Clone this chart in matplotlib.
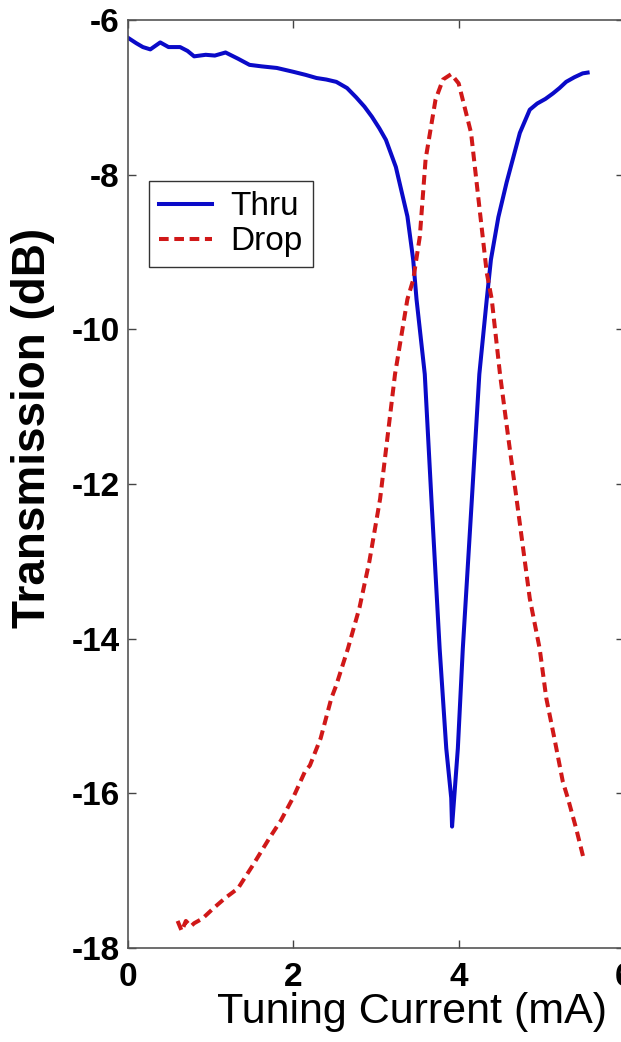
import numpy as np
import matplotlib
matplotlib.use("Agg")
from matplotlib import pyplot as plt

# Thru port
THRU_X = [0.0, 0.10, 0.18, 0.27, 0.39, 0.49, 0.63, 0.72, 0.80, 0.94, 1.05, 1.18,
          1.33, 1.47, 1.62, 1.80, 2.00, 2.15, 2.28, 2.40, 2.52, 2.65, 2.76, 2.86,
          2.95, 3.04, 3.12, 3.24, 3.38, 3.45, 3.49, 3.59, 3.67, 3.77, 3.85, 3.91,
          3.92, 3.99, 4.05, 4.16, 4.25, 4.34, 4.39, 4.48, 4.58, 4.63, 4.74, 4.86,
          4.95, 5.05, 5.14, 5.22, 5.30, 5.40, 5.50, 5.56]
THRU_Y = [-6.23, -6.30, -6.35, -6.38, -6.29, -6.35, -6.35, -6.40, -6.47, -6.45, -6.46, -6.42,
          -6.50, -6.58, -6.60, -6.62, -6.67, -6.71, -6.75, -6.77, -6.80, -6.88, -7.00, -7.12,
          -7.25, -7.40, -7.55, -7.90, -8.54, -9.10, -9.61, -10.58, -12.19, -14.13, -15.42, -16.06,
          -16.43, -15.42, -14.13, -12.19, -10.58, -9.61, -9.10, -8.55, -8.10, -7.90, -7.46, -7.16,
          -7.08, -7.02, -6.95, -6.88, -6.80, -6.74, -6.69, -6.68]

# Drop port
DROP_X = [0.60, 0.65, 0.70, 0.76, 0.80, 0.90, 1.04, 1.18, 1.33, 1.51, 1.71, 1.85,
          2.00, 2.14, 2.20, 2.33, 2.46, 2.52, 2.66, 2.80, 2.92, 3.05, 3.23, 3.38,
          3.45, 3.53, 3.60, 3.72, 3.81, 3.91, 4.00, 4.15, 4.24, 4.34, 4.40, 4.50,
          4.60, 4.70, 4.86, 4.98, 5.06, 5.16, 5.26, 5.32, 5.42, 5.52]
DROP_Y = [-17.65, -17.78, -17.65, -17.72, -17.68, -17.62, -17.48, -17.35, -17.23, -16.93, -16.58, -16.35,
          -16.05, -15.72, -15.64, -15.29, -14.77, -14.60, -14.13, -13.60, -13.00, -12.19, -10.58, -9.61,
          -9.36, -8.80, -7.80, -7.03, -6.77, -6.70, -6.82, -7.46, -8.32, -9.27, -9.61, -10.58,
          -11.40, -12.19, -13.48, -14.13, -14.77, -15.30, -15.85, -16.06, -16.45, -16.88]

X_TICKS = [0, 2, 4, 6]
Y_TICKS = [-18, -16, -14, -12, -10, -8, -6]

plt.rcParams['font.family'] = ['Liberation Sans', 'DejaVu Sans']

fig = plt.figure(figsize=(6.21, 10.42), dpi=100)
ax = fig.add_axes([128 / 621, 94 / 1042, 496 / 621, 928 / 1042])

ax.plot(THRU_X, THRU_Y, color='#0a0ac8', lw=2.9, label='Thru')
ax.plot(DROP_X, DROP_Y, color='#d01818', lw=2.9, ls=(0, (2.4, 1.4)), label='Drop')

ax.set_xlim(0, 6)
ax.set_ylim(-18, -6)
ax.set_xticks(X_TICKS)
ax.set_yticks(Y_TICKS)
ax.set_xticklabels([str(v) for v in X_TICKS], fontsize=24, fontweight='bold')
ax.set_yticklabels([str(v) for v in Y_TICKS], fontsize=24, fontweight='bold')
ax.tick_params(axis='both', direction='in', length=6, width=1, color='#444444',
               top=True, right=True)
ax.tick_params(axis='x', pad=10)
ax.tick_params(axis='y', pad=6)
for sp in ax.spines.values():
    sp.set_color('#555555')
    sp.set_linewidth(1.2)

leg = ax.legend(loc='upper left', bbox_to_anchor=(0.042, 0.826), fontsize=24,
                frameon=True, fancybox=False, edgecolor='#333333', framealpha=1,
                handlelength=1.6, handletextpad=0.55, borderpad=0.3,
                labelspacing=0.12, borderaxespad=0)
leg.get_frame().set_linewidth(1.0)

fig.text(412 / 621, 1 - 1012 / 1042, 'Tuning Current (mA)', fontsize=31,
         ha='center', va='center')
fig.text(33 / 621, 1 - 428 / 1042, 'Transmission (dB)', fontsize=33,
         fontweight='bold', rotation=90, ha='center', va='center')

fig.savefig('out.png', dpi=100)
